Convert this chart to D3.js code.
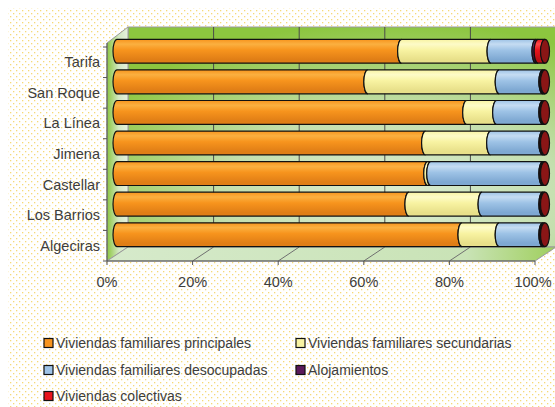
<!DOCTYPE html>
<html>
<head>
<meta charset="utf-8">
<script src="https://cdn.jsdelivr.net/npm/d3@7"></script>
<style>
  body { margin: 0; background: #fff; }
  text { font-family: "Liberation Sans", Arial, sans-serif; fill: #3d3d3d; }
</style>
</head>
<body>
<div id="chart"></div>
<script>
"use strict";
// municipios, de arriba abajo en la imagen
const municipios = ["Tarifa", "San Roque", "La Línea", "Jimena", "Castellar", "Los Barrios", "Algeciras"];
const series = ["Viviendas familiares principales", "Viviendas familiares secundarias",
    "Viviendas familiares desocupadas", "Alojamientos", "Viviendas colectivas"];
// porcentajes por municipio, mismo orden que municipios
const principales = [66.5, 58.6, 81.7, 72.1, 72.6, 68.2, 80.6];
const secundarias = [20.9, 30.7, 7.0, 15.2, 0.7, 17.1, 8.7];
const desocupadas = [10.5, 10.2, 10.8, 12.2, 26.2, 14.2, 10.2];
const alojamientos = [0.5, 0.2, 0.2, 0.2, 0.2, 0.2, 0.2];
const colectivas = [1.6, 0.3, 0.3, 0.3, 0.3, 0.3, 0.3];
const xTicks = [0, 20, 40, 60, 80, 100];

const colors = [
    ["#fbb040", "#f7941d", "#e07e16"],
    ["#fdfbc8", "#f8f3a2", "#e8e08a"],
    ["#c5dcf2", "#9ec3e6", "#7ea8d2"],
    ["#7a2a7a", "#5a1a5a", "#3e0e3e"],
    ["#ff4a4a", "#e8141c", "#b80e14"]
];
const legendColors = ["#f7941d", "#f8f3a2", "#9ec3e6", "#5a1a5a", "#e8141c"];

const width = 555, height = 407;
const svg = d3.select("#chart").append("svg")
    .attr("width", width).attr("height", height);
const defs = svg.append("defs");

// fondo punteado
const pat = defs.append("pattern").attr("id", "dots")
    .attr("width", 6).attr("height", 6).attr("patternUnits", "userSpaceOnUse");
pat.append("rect").attr("x", 1).attr("y", 1).attr("width", 1.3).attr("height", 1.3).attr("fill", "#f6d978");
pat.append("rect").attr("x", 4).attr("y", 4).attr("width", 1.3).attr("height", 1.3).attr("fill", "#f6d978");
svg.append("rect").attr("x", 8).attr("y", 8).attr("width", width - 8).attr("height", height - 8)
    .attr("fill", "url(#dots)");

// geometría 3D
const x = d3.scaleLinear().domain([0, 100]).range([107, 535]);
const y = d3.scaleBand().domain(municipios).range([47, 261]);
const back = { dx: 21, dy: -14 };
const mid = { dx: 10, dy: -11 };

function grad(id, x1, y1, x2, y2, stops) {
    const g = defs.append("linearGradient").attr("id", id)
        .attr("x1", x1).attr("y1", y1).attr("x2", x2).attr("y2", y2);
    stops.forEach(s => g.append("stop").attr("offset", s[0]).attr("stop-color", s[1]));
}
const rg = defs.append("radialGradient").attr("id", "wallG")
    .attr("cx", "0.62").attr("cy", "0.78").attr("r", "0.8");
rg.append("stop").attr("offset", 0).attr("stop-color", "#dcedd3");
rg.append("stop").attr("offset", 0.5).attr("stop-color", "#c4dfae");
rg.append("stop").attr("offset", 1).attr("stop-color", "#8cc63f");
grad("leftG", 0, 0, 1, 0, [[0, "#8cc63f"], [0.55, "#d2e8c2"], [1, "#e6f2de"]]);
grad("floorG", 0, 0, 1, 0, [[0, "#d6eacb"], [0.8, "#c9e3b6"], [1, "#9fcf5c"]]);

const top0 = 43, bot0 = 261;
// pared trasera
svg.append("rect")
    .attr("x", x(0) + back.dx).attr("y", top0 + back.dy - 2)
    .attr("width", x(100) - x(0)).attr("height", bot0 - top0 + 2)
    .attr("fill", "url(#wallG)").attr("stroke", "#9a9a9a").attr("stroke-width", 1);
// pared izquierda
svg.append("path")
    .attr("d", `M${x(0)},${top0} L${x(0) + back.dx},${top0 + back.dy - 2} L${x(0) + back.dx},${bot0 + back.dy} L${x(0)},${bot0} Z`)
    .attr("fill", "url(#leftG)").attr("stroke", "#9a9a9a").attr("stroke-width", 1);
// suelo
svg.append("path")
    .attr("d", `M${x(0)},${bot0} L${x(100)},${bot0} L${x(100) + back.dx},${bot0 + back.dy} L${x(0) + back.dx},${bot0 + back.dy} Z`)
    .attr("fill", "url(#floorG)").attr("stroke", "#9a9a9a").attr("stroke-width", 1);

// rejilla
const grid = svg.append("g").attr("stroke", "#4a4a4a").attr("stroke-width", 1);
xTicks.slice(1, -1).forEach(t => {
    grid.append("line")
        .attr("x1", x(t) + back.dx).attr("x2", x(t) + back.dx)
        .attr("y1", top0 + back.dy - 2).attr("y2", bot0 + back.dy);
    grid.append("line")
        .attr("x1", x(t)).attr("y1", bot0)
        .attr("x2", x(t) + back.dx).attr("y2", bot0 + back.dy)
        .attr("stroke", "#707070");
});

// gradientes de barras
colors.forEach((c, i) => grad("bar" + i, 0, 0, 0, 1,
    [[0, c[1]], [0.2, c[0]], [0.45, c[1]], [0.85, c[2]], [1, c[2]]]));

// barras cilíndricas
const bx = d3.scaleLinear().domain([0, 100]).range([x(0) + mid.dx, x(100) + mid.dx]);
const pad = 0.22;
const bh = y.bandwidth() * (1 - pad);
const rx = 4;
const rows = municipios.map((m, i) => {
    const vals = [principales[i], secundarias[i], desocupadas[i], alojamientos[i], colectivas[i]];
    let acc = 0;
    return { m, segs: vals.map((v, k) => { const s = { k, x0: acc, x1: acc + v }; acc += v; return s; }) };
});
const bars = svg.append("g").selectAll("g").data(rows).join("g")
    .attr("transform", d => `translate(0,${y(d.m) + mid.dy + y.bandwidth() * pad / 2})`);
bars.selectAll("path").data(d => d.segs.filter(s => s.x1 > s.x0)).join("path")
    .attr("d", s => {
        const a = bx(s.x0), b = bx(s.x1), r = bh / 2;
        return `M${a},0 A${rx},${r} 0 0 0 ${a},${bh} L${b},${bh} A${rx},${r} 0 0 1 ${b},0 Z`;
    })
    .attr("fill", s => `url(#bar${s.k})`)
    .attr("stroke", "#111").attr("stroke-width", 1.2);
bars.append("ellipse")
    .attr("cx", bx(100)).attr("cy", bh / 2).attr("rx", rx + 0.5).attr("ry", bh / 2)
    .attr("fill", "#8a1616").attr("stroke", "#111").attr("stroke-width", 1.2);

// ejes
const axisC = "#555";
svg.append("line").attr("x1", x(0)).attr("x2", x(0)).attr("y1", top0).attr("y2", bot0)
    .attr("stroke", axisC);
svg.append("line").attr("x1", x(0)).attr("x2", x(100)).attr("y1", bot0).attr("y2", bot0)
    .attr("stroke", axisC);
const yTickPos = municipios.map(m => y(m)).concat([y.range()[1]]);
svg.append("g").selectAll("line").data(yTickPos).join("line")
    .attr("x1", x(0) - 4).attr("x2", x(0)).attr("y1", d => d).attr("y2", d => d)
    .attr("stroke", axisC);
svg.append("g").selectAll("line").data(xTicks).join("line")
    .attr("x1", d => x(d)).attr("x2", d => x(d)).attr("y1", bot0).attr("y2", bot0 + 4)
    .attr("stroke", axisC);

svg.append("g").selectAll("text").data(municipios).join("text")
    .attr("x", 100).attr("y", d => y(d) + y.bandwidth() / 2 + 5)
    .attr("text-anchor", "end").attr("font-size", 14.5).text(d => d);
svg.append("g").selectAll("text").data(xTicks).join("text")
    .attr("x", d => x(d) + (d === 100 ? -2 : 0)).attr("y", 287)
    .attr("text-anchor", "middle").attr("font-size", 14.5).text(d => d + "%");

// leyenda
const legPos = [[44, 343], [296, 343], [44, 370], [296, 370], [44, 396]];
const leg = svg.append("g").selectAll("g").data(series).join("g")
    .attr("transform", (d, i) => `translate(${legPos[i][0]},${legPos[i][1]})`);
leg.append("rect").attr("x", 0).attr("y", -4.5).attr("width", 9).attr("height", 9)
    .attr("fill", (d, i) => legendColors[i]).attr("stroke", "#111").attr("stroke-width", 1.2);
leg.append("text").attr("x", 12).attr("y", 5).attr("font-size", 14).text(d => d);
</script>
</body>
</html>
